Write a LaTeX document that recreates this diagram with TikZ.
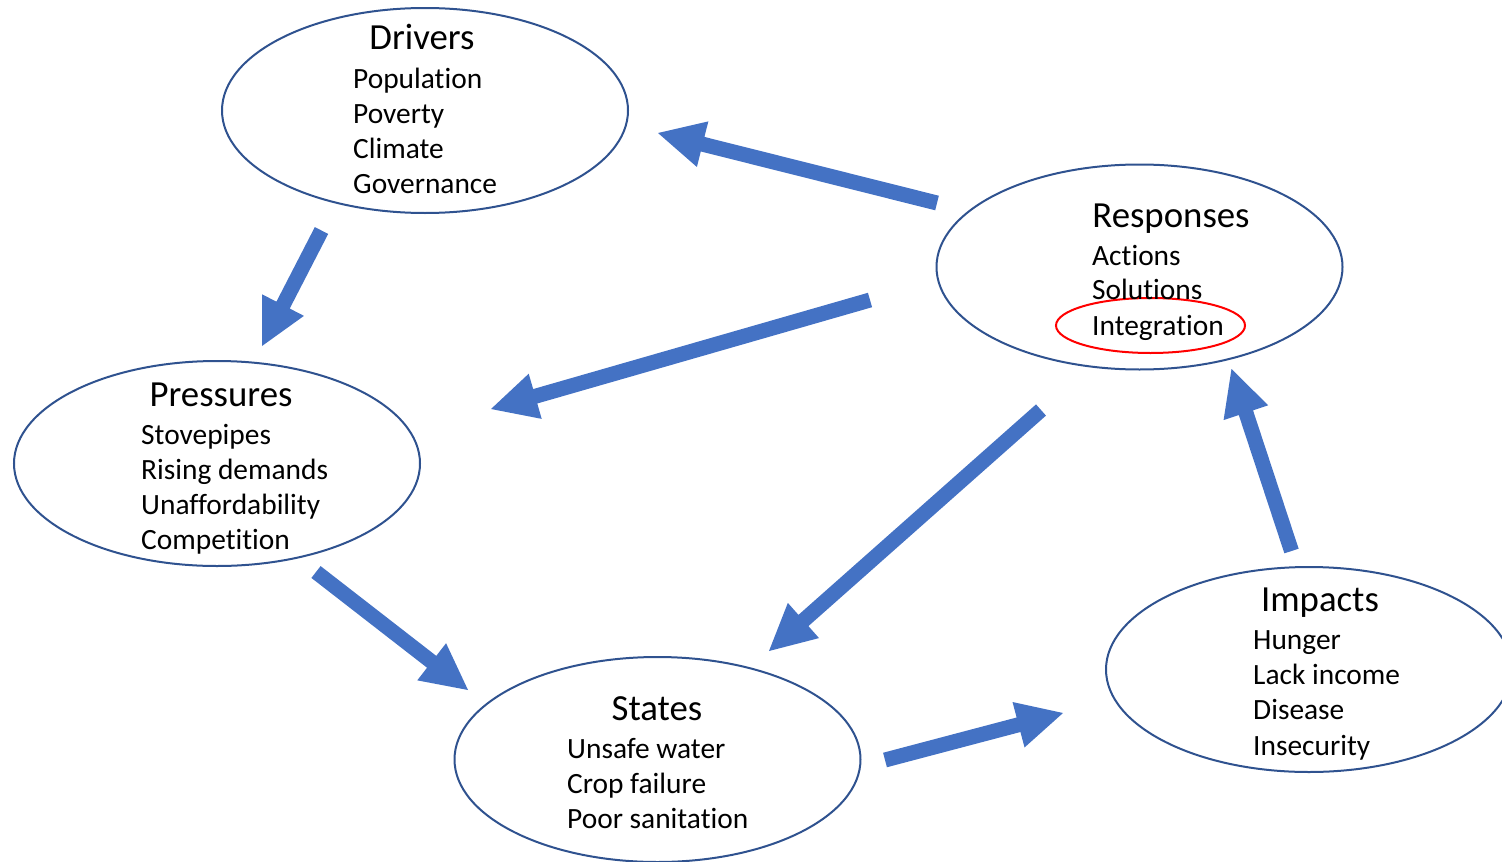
\documentclass[tikz,border=0pt]{standalone}
\usepackage{fontspec}
\setmainfont{Carlito}[Ligatures=NoCommon]
\usetikzlibrary{shapes.geometric,calc}
\definecolor{arrowblue}{HTML}{4472C4}
\definecolor{rimblue}{HTML}{2F528F}
\newcommand\blockarrow[2]{%
  \coordinate (hb) at ($(#2)!46pt!(#1)$);
  \fill[arrowblue] ($(#1)!7.5pt!90:(#2)$) -- ($(hb)!7.5pt!90:(#2)$) -- ($(hb)!23.5pt!90:(#2)$) -- (#2)
    -- ($(hb)!23.5pt!-90:(#2)$) -- ($(hb)!7.5pt!-90:(#2)$) -- ($(#1)!7.5pt!-90:(#2)$) -- cycle;}
\begin{document}
\begin{tikzpicture}[x=1pt,y=-1pt,
  stage/.style={ellipse, draw=rimblue, line width=2pt, inner sep=0pt, minimum width=406pt, minimum height=205pt},
  ring/.style={ellipse, draw=red, line width=2pt, inner sep=0pt, minimum width=189pt, minimum height=55pt},
  title/.style={anchor=base, font=\fontsize{36.8}{42}\selectfont, inner sep=0pt},
  item/.style={anchor=base west, font=\fontsize{29.4}{35}\selectfont, inner sep=0pt}]
\useasboundingbox (0,0) rectangle (1502,862);
\clip (0,0) rectangle (1502,862);
% ellipses
\node[stage] (drivers) at (425,110.5) {};
\node[stage] (responses) at (1139.5,267) {};
\node[stage] (pressures) at (217,463.5) {};
\node[stage] (states) at (657.5,759.5) {};
\node[stage] (impacts) at (1309,669.5) {};
\node[ring] (integ) at (1150.5,325.5) {};
% texts
\node[title] (t-drv) at (422,49) {Drivers};
\node[item] (d1) at (353,88) {Population};
\node[item] (d2) at (353,123) {Poverty};
\node[item] (d3) at (353,158) {Climate};
\node[item] (d4) at (353,193) {Governance};
\node[title] (t-rsp) at (1171,227) {Responses};
\node[item] (r1) at (1092,265) {Actions};
\node[item] (r2) at (1092,299) {Solutions};
\node[item] (r3) at (1092,335) {Integration};
\node[title] (t-prs) at (221,406) {Pressures};
\node[item] (p1) at (141,444) {Stovepipes};
\node[item] (p2) at (141,479) {Rising demands};
\node[item] (p3) at (141,514) {Unaffordability};
\node[item] (p4) at (141,549) {Competition};
\node[title] (t-sts) at (657,720) {States};
\node[item] (s1) at (567,758) {Unsafe water};
\node[item] (s2) at (567,793) {Crop failure};
\node[item] (s3) at (567,828) {Poor sanitation};
\node[title] (t-imp) at (1320,611) {Impacts};
\node[item] (i1) at (1253,649) {Hunger};
\node[item] (i2) at (1253,684) {Lack income};
\node[item] (i3) at (1253,719) {Disease};
\node[item] (i4) at (1253,755) {Insecurity};
% arrow ends
\coordinate (rd-s) at (937,203);   \coordinate (rd-t) at (658,133);
\coordinate (dp-s) at (321.5,230.5); \coordinate (dp-t) at (262,346);
\coordinate (rp-s) at (870,300);   \coordinate (rp-t) at (491,409);
\coordinate (rs-s) at (1041,410);  \coordinate (rs-t) at (769,651);
\coordinate (ps-s) at (316,572);   \coordinate (ps-t) at (468,690);
\coordinate (si-s) at (885,760);   \coordinate (si-t) at (1063,713);
\coordinate (ir-s) at (1291.5,551); \coordinate (ir-t) at (1231.5,369);
\blockarrow{rd-s}{rd-t}
\blockarrow{dp-s}{dp-t}
\blockarrow{rp-s}{rp-t}
\blockarrow{rs-s}{rs-t}
\blockarrow{ps-s}{ps-t}
\blockarrow{si-s}{si-t}
\blockarrow{ir-s}{ir-t}
\end{tikzpicture}
\end{document}
